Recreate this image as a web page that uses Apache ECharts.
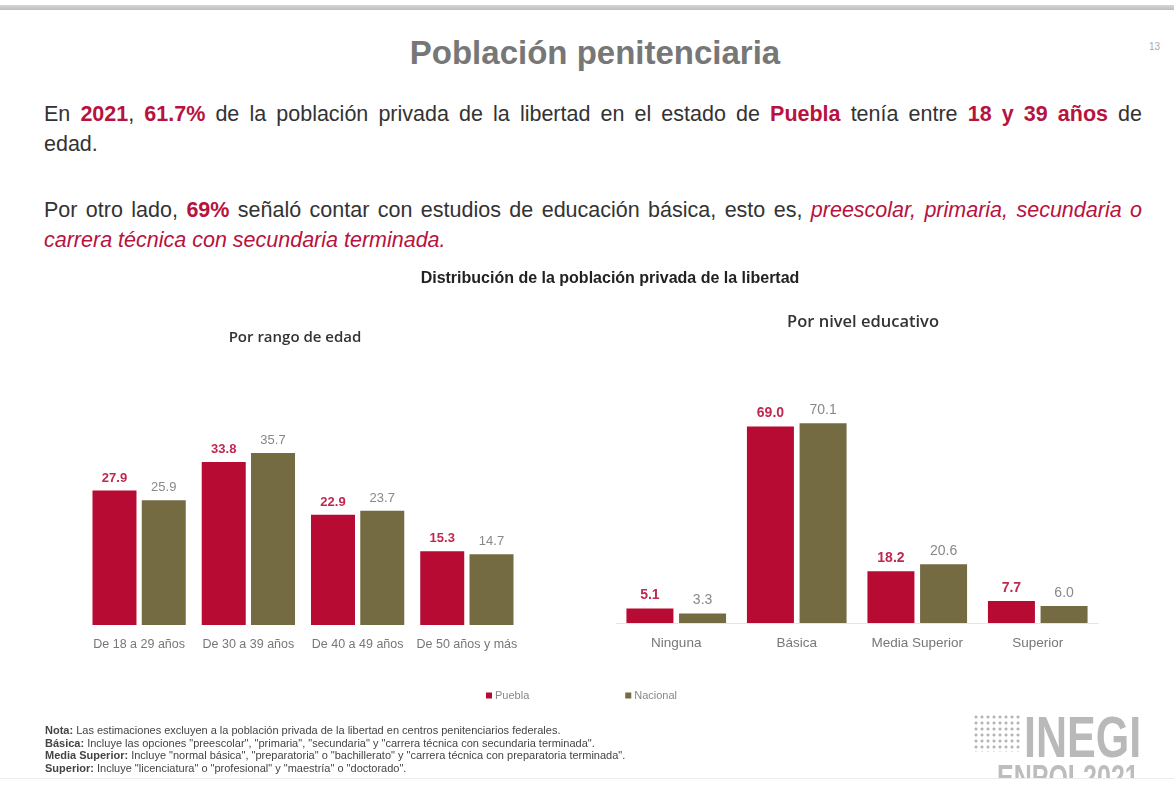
<!DOCTYPE html>
<html>
<head>
<meta charset="utf-8">
<script src="https://cdn.jsdelivr.net/npm/echarts@6/dist/echarts.min.js"></script>
<style>
  html, body { margin: 0; padding: 0; background: #fff; }
  #page { position: relative; width: 1174px; height: 787px; overflow: hidden; background: #fff; font-family: 'Liberation Sans', Arial, sans-serif; }
  #topbar { position: absolute; left: 0; top: 5px; width: 1174px; height: 5px; background: linear-gradient(#d6d6d6, #bdbdbd); }
  #title { position: absolute; left: 0; width: 1190px; top: 34px; text-align: center; font-size: 33px; font-weight: bold; color: #777; }
  #pagenum { position: absolute; left: 1149px; top: 41px; font-size: 10px; color: #aaa; }
  .para { position: absolute; left: 44px; width: 1098px; font-size: 21.5px; line-height: 30px; color: #333; }
  .just { text-align: justify; text-align-last: justify; }
  .hl { color: #b8123e; font-weight: bold; }
  .it { color: #b8123e; font-style: italic; }
  #chart { position: absolute; left: 0; top: 0; width: 1174px; height: 787px; }
  #notes { position: absolute; left: 45px; top: 724px; font-size: 11px; line-height: 12.7px; color: #444; }
  #logo1 { position: absolute; left: 1024px; top: 704px; font-size: 43px; font-weight: bold; color: #b9b9b9; transform: scale(1, 1.35); transform-origin: 0 0; }
  #logo2 { position: absolute; left: 997px; top: 757px; font-size: 25px; font-weight: bold; color: #bdbdbd; transform: scale(1, 1.4); transform-origin: 0 0; }
  #cut { position: absolute; left: 0; top: 778px; width: 1174px; height: 9px; background: #fff; border-top: 1px solid #ececec; }
  #dots { position: absolute; left: 973px; top: 714px; width: 48px; height: 38px; background-image: radial-gradient(circle, #b5b5b5 1.4px, transparent 1.7px); background-size: 6px 6px; }
</style>
</head>
<body>
<div id="page">
  <div id="topbar"></div>
  <div id="title">Población penitenciaria</div>
  <div id="pagenum">13</div>
  <div class="para" style="top:99px">
    <div class="just">En <span class="hl">2021</span>, <span class="hl">61.7%</span> de la población privada de la libertad en el estado de <span class="hl">Puebla</span> tenía entre <span class="hl">18 y 39 años</span> de</div>
    <div>edad.</div>
  </div>
  <div class="para" style="top:195px">
    <div class="just">Por otro lado, <span class="hl">69%</span> señaló contar con estudios de educación básica, esto es, <span class="it">preescolar, primaria, secundaria o</span></div>
    <div class="it">carrera técnica con secundaria terminada.</div>
  </div>
  <div id="chart"></div>
  <div id="notes">
    <div><b>Nota:</b> Las estimaciones excluyen a la población privada de la libertad en centros penitenciarios federales.</div>
    <div><b>Básica:</b> Incluye las opciones "preescolar", "primaria", "secundaria" y "carrera técnica con secundaria terminada".</div>
    <div><b>Media Superior:</b> Incluye "normal básica", "preparatoria" o "bachillerato" y "carrera técnica con preparatoria terminada".</div>
    <div><b>Superior:</b> Incluye "licenciatura" o "profesional" y "maestría" o "doctorado".</div>
  </div>
  <div id="dots"></div>
  <div id="logo1">INEGI</div>
  <div id="logo2">ENPOL2021</div>
  <div id="cut"></div>
</div>
<script>
// datos
const edadCats = ['De 18 a 29 años', 'De 30 a 39 años', 'De 40 a 49 años', 'De 50 años y más'];
const edadPuebla = [27.9, 33.8, 22.9, 15.3];
const edadNacional = [25.9, 35.7, 23.7, 14.7];

const eduCats = ['Ninguna', 'Básica', 'Media Superior', 'Superior'];
const eduPuebla = [5.1, 69.0, 18.2, 7.7];
const eduNacional = [3.3, 70.1, 20.6, 6.0];

const seriesNames = ['Puebla', 'Nacional'];

const rojo = '#b70b33';
const olivo = '#756b43';

const chart = echarts.init(document.getElementById('chart'));

function barSerie(name, data, axisIdx, color, labelColor, bold, width, fs) {
  return {
    name: name,
    type: 'bar',
    xAxisIndex: axisIdx,
    yAxisIndex: axisIdx,
    data: data,
    barWidth: width,
    barGap: '12%',
    itemStyle: { color: color },
    label: {
      show: true,
      position: 'top',
      distance: 6,
      color: labelColor,
      fontSize: fs,
      fontWeight: bold ? 'bold' : 'normal',
      fontFamily: 'Liberation Sans',
      formatter: p => p.value.toFixed(1)
    }
  };
}

chart.setOption({
  animation: false,
  title: [
    { text: 'Distribución de la población privada de la libertad', left: 605, top: 266, textAlign: 'center',
      textStyle: { fontSize: 16, fontWeight: 'bold', color: '#222', fontFamily: 'Liberation Sans' } },
    { text: 'Por rango de edad', left: 290, top: 325, textAlign: 'center',
      textStyle: { fontSize: 15, fontWeight: 600, color: '#333', fontFamily: 'Open Sans' } },
    { text: 'Por nivel educativo', left: 858, top: 309, textAlign: 'center',
      textStyle: { fontSize: 16.5, fontWeight: 600, color: '#333', fontFamily: 'Open Sans' } }
  ],
  legend: {
    data: seriesNames,
    left: 481, top: 685,
    icon: 'rect', itemWidth: 6, itemHeight: 6, itemGap: 96,
    textStyle: { color: '#888', fontSize: 11, fontFamily: 'Liberation Sans', padding: [0, 0, 0, -2] }
  },
  grid: [
    { left: 84.5, top: 425, width: 437, height: 200 },
    { left: 616, top: 423, width: 482, height: 200 }
  ],
  xAxis: [
    { type: 'category', gridIndex: 0, data: edadCats, axisTick: { show: false },
      axisLine: { show: false },
      axisLabel: { color: '#777', fontSize: 12.5, fontFamily: 'Liberation Sans', margin: 13, interval: 0 } },
    { type: 'category', gridIndex: 1, data: eduCats, axisTick: { show: false },
      axisLine: { show: true, lineStyle: { color: '#ebe3e3', width: 1 } },
      axisLabel: { color: '#777', fontSize: 13.5, fontFamily: 'Liberation Sans', margin: 13, interval: 0 } }
  ],
  yAxis: [
    { type: 'value', gridIndex: 0, min: 0, max: 41.5, show: false },
    { type: 'value', gridIndex: 1, min: 0, max: 70.2, show: false }
  ],
  series: [
    barSerie('Puebla', edadPuebla, 0, rojo, '#c0284f', true, 44, 13),
    barSerie('Nacional', edadNacional, 0, olivo, '#888', false, 44, 13),
    barSerie('Puebla', eduPuebla, 1, rojo, '#c0284f', true, 47, 14),
    barSerie('Nacional', eduNacional, 1, olivo, '#888', false, 47, 14)
  ]
});
</script>
</body>
</html>
